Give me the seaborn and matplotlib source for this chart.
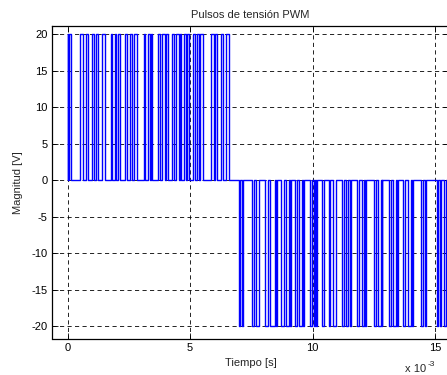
import matplotlib
matplotlib.use("Agg")
import matplotlib.pyplot as plt
import seaborn as sns
import numpy as np
import pandas as pd

# ---- data (time in ms, amplitude in V) ----
amplitude = 20
pos_on  = [0.00, 0.08, 0.52, 0.76, 1.01, 1.17, 1.42, 1.76, 1.92, 2.06, 2.35, 2.55, 2.72,
           3.13, 3.29, 3.41, 3.69, 3.85, 4.03, 4.26, 4.44, 4.61, 4.75, 4.89,
           5.13, 5.28, 5.42, 5.85, 6.02, 6.26, 6.45]
pos_off = [0.04, 0.13, 0.63, 0.83, 1.07, 1.24, 1.51, 1.81, 1.99, 2.13, 2.42, 2.64, 2.82,
           3.18, 3.36, 3.46, 3.76, 3.96, 4.10, 4.33, 4.54, 4.65, 4.82, 4.95,
           5.22, 5.35, 5.53, 5.96, 6.09, 6.34, 6.61]
neg_on  = [6.98, 7.12, 7.53, 7.69, 8.07, 8.27, 8.50, 8.73, 8.93, 9.08, 9.30, 9.46, 9.62,
           9.89, 10.05, 10.16, 10.40, 10.67, 10.83, 11.22, 11.38, 11.51, 11.83, 12.00, 12.14,
           12.51, 12.69, 12.82, 13.13, 13.30, 13.44, 13.68, 13.88, 14.05, 14.43, 14.58,
           15.07, 15.20, 15.37]
neg_off = [7.05, 7.18, 7.60, 7.80, 8.18, 8.45, 8.55, 8.82, 9.03, 9.13, 9.37, 9.57, 9.67,
           9.96, 10.12, 10.19, 10.47, 10.73, 10.94, 11.29, 11.46, 11.56, 11.90, 12.10, 12.17,
           12.58, 12.78, 12.85, 13.20, 13.40, 13.47, 13.78, 14.00, 14.09, 14.50, 14.63,
           15.12, 15.25, 15.45]
t_end = 16.0
x_ticks = [0, 5, 10, 15]
y_ticks = [-20, -15, -10, -5, 0, 5, 10, 15, 20]

# ---- build step signal ----
pulses = sorted([(a, b, amplitude) for a, b in zip(pos_on, pos_off)] +
                [(a, b, -amplitude) for a, b in zip(neg_on, neg_off)])
t, v = [], []
for a, b, lvl in pulses:
    t += [a, a, b, b]
    v += [0, lvl, lvl, 0]
t.append(t_end)
v.append(0)
df = pd.DataFrame({"t": t, "v": v})

sns.set_theme(style="white")
plt.rcParams['font.family'] = ['Liberation Sans', 'DejaVu Sans']
plt.rcParams['axes.unicode_minus'] = False

W, H = 447, 375
fig = plt.figure(figsize=(W / 100, H / 100), dpi=100)
left, right, top, bottom = 52, 449, 26, 338.5
ax = fig.add_axes([left / W, 1 - bottom / H, (right - left) / W, (bottom - top) / H])

sns.lineplot(data=df, x="t", y="v", sort=False, estimator=None, color="#0000FF",
             linewidth=1.0, ax=ax)

x0 = -0.633
ax.set_xlim(x0, x0 + (right - left) / 24.5)
ax.set_ylim(-21.65, 21.1)
ax.set_xticks(x_ticks)
ax.set_yticks(y_ticks)
ax.tick_params(direction="in", length=4, width=0.6, labelsize=8, colors="black",
               top=True, right=True, bottom=True, left=True, pad=3)
ax.grid(True, color="black", linestyle=(0, (5, 4)), linewidth=0.6)
for s in ax.spines.values():
    s.set_color("black")
    s.set_linewidth(0.9)
    s.set_visible(True)

ax.set_title("Pulsos de tensión PWM", fontsize=8, pad=6)
ax.set_xlabel("Tiempo [s]", fontsize=8, labelpad=4)
ax.set_ylabel("Magnitud [V]", fontsize=8, labelpad=6)

fig.text(405 / W, 1 - 369 / H, "x 10", fontsize=8, va="center", ha="left")
fig.text(428 / W, 1 - 364 / H, "-3", fontsize=6, va="center", ha="left")

fig.savefig("out.png", dpi=100)
